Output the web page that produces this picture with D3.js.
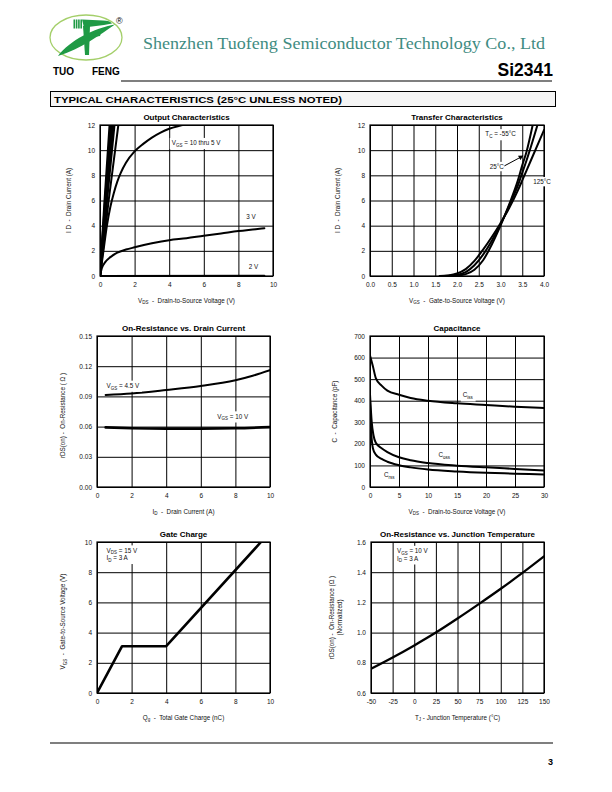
<!DOCTYPE html>
<html><head><meta charset="utf-8">
<script src="https://cdn.jsdelivr.net/npm/d3@7"></script>
<style>
body{margin:0;background:#fff}
svg{display:block}
text{font-family:"Liberation Sans",Arial,Helvetica,sans-serif;white-space:pre}
</style>
</head><body>
<svg id="c" width="612" height="792"></svg>
<script>
// ---------------- DATA ----------------
// 1. Output characteristics (VDS, ID)
const outTicksX = [0,2,4,6,8,10];
const outTicksY = [0,2,4,6,8,10,12];
const outV10 = [[0,0],[0.27,6],[0.56,12]];
const outV9  = [[0,0],[0.30,6],[0.62,12]];
const outV8  = [[0,0],[0.33,6],[0.68,12]];
const outV7  = [[0,0],[0.36,6],[0.75,12]];
const outV6  = [[0,0],[0.40,6],[0.83,12]];
const outV5  = [[0,0],[0.50,6],[1.06,12]];
const outV4  = [[0,0],[0.2,2],[0.4,4],[0.6,5.5],[0.8,6.6],[1.0,7.5],[1.2,8.2],[1.5,9.0],[2,9.9],[2.5,10.5],[3,11.0],[3.5,11.4],[4,11.7],[4.5,11.9],[5,12.05]];
const outV3  = [[0,0],[0.1,0.6],[0.3,1.1],[0.6,1.5],[1,1.85],[1.5,2.1],[2,2.28],[3,2.6],[4,2.85],[5,3.0],[6,3.2],[7,3.38],[8,3.57],[9,3.72],[9.5,3.8]];
const outV2  = [[0,0],[9.5,0.02]];

// 2. Transfer characteristics (VGS, ID)
const trTicksX = [0,0.5,1,1.5,2,2.5,3,3.5,4];
const trTicksY = [0,2,4,6,8,10,12];
const trM55 = [[1.8,0],[2.0,0.03],[2.2,0.15],[2.4,0.5],[2.6,1.25],[2.8,2.5],[3.0,4.0],[3.2,5.7],[3.4,7.6],[3.5,8.8],[3.6,9.9],[3.74,12]];
const tr25  = [[1.7,0],[2.0,0.08],[2.2,0.3],[2.4,0.85],[2.6,1.7],[2.8,2.8],[3.0,4.1],[3.2,5.6],[3.4,7.2],[3.5,8.2],[3.6,9.2],[3.85,12]];
const tr125 = [[1.6,0],[1.8,0.05],[2.0,0.2],[2.2,0.55],[2.4,1.2],[2.6,2.1],[2.8,3.1],[3.0,4.2],[3.2,5.4],[3.4,6.8],[3.5,7.6],[3.7,9.2],[4.0,11.6]];

// 3. On-resistance vs drain current (ID, rDS)
const onTicksX = [0,2,4,6,8,10];
const onTicksY = [0,0.03,0.06,0.09,0.12,0.15];
const onV45 = [[0.5,0.0915],[2,0.093],[4,0.0964],[6,0.1003],[8,0.106],[9,0.1105],[10,0.116]];
const onV10 = [[0.5,0.0592],[2,0.0584],[4,0.058],[6,0.058],[8,0.0583],[10,0.0595]];

// 4. Capacitance (VDS, pF)
const capTicksX = [0,5,10,15,20,25,30];
const capTicksY = [0,100,200,300,400,500,600,700];
const ciss = [[0,610],[0.5,560],[1,505],[2,470],[3,447],[5,428],[7,413],[10,400],[15,388],[20,380],[25,372],[30,366]];
const coss = [[0,430],[0.3,300],[0.6,240],[1,205],[2,180],[3,162],[5,138],[7,124],[10,111],[15,99],[20,91],[25,84],[30,77]];
const crss = [[0,400],[0.2,260],[0.5,180],[1,150],[2,130],[3,117],[5,101],[7,91],[10,81],[15,72],[20,66],[25,62],[30,58]];

// 5. Gate charge (Qg, VGS)
const gcTicksX = [0,2,4,6,8,10];
const gcTicksY = [0,2,4,6,8,10];
const gateCharge = [[0,0],[1.45,3.1],[4.0,3.1],[9.48,10]];

// 6. On-resistance vs junction temperature (TJ, normalized)
const tjTicksX = [-50,-25,0,25,50,75,100,125,150];
const tjTicksY = [0.6,0.8,1.0,1.2,1.4,1.6];
const rdsTj = [[-50,0.76],[-25,0.835],[0,0.915],[25,1.0],[50,1.093],[75,1.19],[100,1.29],[125,1.395],[150,1.505]];

// ---------------- DRAW ----------------
const svg = d3.select('#c');

// header / logo
const G = '#1f9a45';
svg.append('ellipse').attr('cx',86).attr('cy',37.5).attr('rx',36).attr('ry',22.5)
  .attr('fill','none').attr('stroke','#a4cf6a').attr('stroke-width',1.3);
[73.5,75.8,78.1,80.4].forEach(x=>svg.append('rect').attr('x',x).attr('y',19.5).attr('width',1.6).attr('height',9).attr('fill',G));
svg.append('path').attr('d','M82,19.5 L103,20.5 Q110,20.5 112,23.5 L104,25 L84,27.5 Z').attr('fill',G);
svg.append('path').attr('d','M83,26 L90,25.5 L89,55 L85,55 Z').attr('fill',G);
svg.append('path').attr('d','M58,56 C70,40 94,28.5 115,24.5 C101,34 81,49 58,56 Z').attr('fill',G);
svg.append('path').attr('d','M88,34 L101,32.5 L100,36 L88,38 Z').attr('fill',G);
svg.append('text').attr('x',116).attr('y',24).attr('font-size',9).text('®');
svg.append('text').attr('x',53).attr('y',74.5).attr('font-size',10).attr('font-weight','bold').text('TUO');
svg.append('text').attr('x',92).attr('y',74.5).attr('font-size',10).attr('font-weight','bold').text('FENG');
svg.append('text').attr('x',143).attr('y',49).attr('font-size',17.5)
  .style('font-family','"Liberation Serif","Times New Roman",serif').attr('fill','#3f8c82')
  .attr('textLength',402).attr('lengthAdjust','spacingAndGlyphs')
  .text('Shenzhen Tuofeng Semiconductor Technology Co., Ltd');
svg.append('text').attr('x',553).attr('y',76).attr('text-anchor','end').attr('font-size',17.5)
  .attr('font-weight','bold').text('Si2341');
svg.append('line').attr('x1',121).attr('x2',552).attr('y1',81).attr('y2',81).attr('stroke','#000').attr('stroke-width',1.2);
svg.append('rect').attr('x',50.5).attr('y',91.5).attr('width',505).attr('height',15)
  .attr('fill','#f5f5f5').attr('stroke','#000').attr('stroke-width',1);
svg.append('text').attr('x',54).attr('y',102.5).attr('font-size',9.5).attr('font-weight','900')
  .attr('textLength',288).attr('lengthAdjust','spacingAndGlyphs')
  .text('TYPICAL CHARACTERISTICS (25°C UNLESS NOTED)');
svg.append('line').attr('x1',50).attr('x2',553).attr('y1',743).attr('y2',743).attr('stroke','#000').attr('stroke-width',1.2);
svg.append('text').attr('x',553).attr('y',765).attr('text-anchor','end').attr('font-size',9).attr('font-weight','bold').text('3');

// rich text helper: segments = strings or {sub:'..'}
function rich(sel, segs, size){
  let pend = 0;
  segs.forEach(s=>{
    if(typeof s==='string'){
      const t = sel.append('tspan').text(s);
      if(pend){ t.attr('dy', pend); pend = 0; }
    } else {
      sel.append('tspan').attr('font-size', size*0.72).attr('dy', size*0.28).text(s.sub);
      pend = -size*0.28;
    }
  });
  return sel;
}

let clipId = 0;
function panel(cfg){
  const {L,R,T,B} = cfg;
  const g = svg.append('g');
  const x = d3.scaleLinear().domain(cfg.xd).range([L,R]);
  const y = d3.scaleLinear().domain(cfg.yd).range([B,T]);
  // grid
  g.append('g').attr('transform',`translate(0,${B})`)
    .call(d3.axisBottom(x).tickValues(cfg.xt).tickSize(-(B-T)).tickFormat(''))
    .call(a=>a.select('.domain').remove())
    .call(a=>a.selectAll('line').attr('stroke','#000').attr('stroke-width',1));
  g.append('g').attr('transform',`translate(${L},0)`)
    .call(d3.axisLeft(y).tickValues(cfg.yt).tickSize(-(R-L)).tickFormat(''))
    .call(a=>a.select('.domain').remove())
    .call(a=>a.selectAll('line').attr('stroke','#000').attr('stroke-width',1));
  g.append('rect').attr('x',L).attr('y',T).attr('width',R-L).attr('height',B-T)
    .attr('fill','none').attr('stroke','#000').attr('stroke-width',1.2);
  // tick labels
  g.append('g').attr('transform',`translate(0,${B})`)
    .call(d3.axisBottom(x).tickValues(cfg.xt).tickSize(0).tickPadding(6).tickFormat(cfg.xf))
    .call(a=>a.select('.domain').remove())
    .call(a=>a.selectAll('text').attr('font-size',6.5).attr('fill','#111').style('font-family','"Liberation Sans",Arial,sans-serif'));
  g.append('g').attr('transform',`translate(${L},0)`)
    .call(d3.axisLeft(y).tickValues(cfg.yt).tickSize(0).tickPadding(5).tickFormat(cfg.yf))
    .call(a=>a.select('.domain').remove())
    .call(a=>a.selectAll('text').attr('font-size',6.5).attr('fill','#111').style('font-family','"Liberation Sans",Arial,sans-serif'));
  // title
  g.append('text').attr('x',(L+R)/2).attr('y',T-5).attr('text-anchor','middle')
    .attr('font-size',8).attr('font-weight','bold').text(cfg.title);
  // axis titles
  rich(g.append('text').attr('x',(L+R)/2).attr('y',B+26.5).attr('text-anchor','middle')
    .attr('font-size',6.3).attr('fill','#111'), cfg.xl, 6.3);
  cfg.yl.forEach((segs,i)=>{
    rich(g.append('text').attr('transform',`translate(${cfg.ylx[i]},${(T+B)/2+(cfg.yloff||0)}) rotate(-90)`)
      .attr('text-anchor','middle').attr('font-size',6.3).attr('fill','#111'), segs, 6.3);
  });
  // series
  const id = 'clip'+(clipId++);
  svg.append('clipPath').attr('id',id).append('rect').attr('x',L).attr('y',T).attr('width',R-L).attr('height',B-T);
  const line = d3.line().x(d=>x(d[0])).y(d=>y(d[1])).curve(d3.curveMonotoneX);
  const lineL = d3.line().x(d=>x(d[0])).y(d=>y(d[1]));
  const sg = g.append('g').attr('clip-path',`url(#${id})`);
  cfg.series.forEach(s=>{
    sg.append('path').datum(s.data).attr('d',(s.linear?lineL:line))
      .attr('fill','none').attr('stroke','#000').attr('stroke-width',s.w||2)
      .attr('stroke-linejoin','round').attr('stroke-linecap','round');
  });
  // labels with white background
  (cfg.labels||[]).forEach(lb=>{
    const lg = g.append('g');
    lb.lines.forEach((segs,i)=>rich(lg.append('text').attr('x',x(lb.x)).attr('y',y(lb.y)+i*7.5)
      .attr('font-size',6.3).attr('fill','#111'), segs, 6.3));
    const bb = lg.node().getBBox();
    const p = lb.pad==null?2:lb.pad;
    lg.insert('rect',':first-child').attr('x',bb.x-p).attr('y',bb.y-p*0.6).attr('width',bb.width+2*p).attr('height',bb.height+p*1.2).attr('fill','#fff');
  });
  return {g,x,y};
}

const f0 = d=>String(d), f1 = d3.format('.1f'), f2 = d3.format('.2f');

// 1 Output
panel({L:100,R:273,T:125,B:276, xd:[0,10], yd:[0,12], xt:outTicksX, yt:outTicksY, xf:f0, yf:f0,
  title:'Output Characteristics',
  xl:['V',{sub:'DS'},'  -  Drain-to-Source Voltage (V)'],
  yl:[['I D  -  Drain Current (A)']], ylx:[71],
  series:[{data:outV10,linear:true,w:2.3},{data:outV9,linear:true,w:2.3},{data:outV8,linear:true,w:2.3},{data:outV7,linear:true,w:2.3},{data:outV6,linear:true,w:2.3},{data:outV5,linear:true},
          {data:outV4},{data:outV3},{data:outV2,linear:true}],
  labels:[{x:4.15,y:10.4,lines:[['V',{sub:'GS'},' = 10 thru 5 V']]},
          {x:8.45,y:4.5,lines:[['3 V']]},
          {x:8.6,y:0.55,lines:[['2 V']],pad:4}]
});

// 2 Transfer
const p2 = panel({L:370,R:544,T:125,B:276, xd:[0,4], yd:[0,12], xt:trTicksX, yt:trTicksY, xf:f1, yf:f0,
  title:'Transfer Characteristics',
  xl:['V',{sub:'GS'},'  -  Gate-to-Source Voltage (V)'],
  yl:[['I D  -  Drain Current (A)']], ylx:[340],
  series:[{data:trM55},{data:tr25},{data:tr125}],
  labels:[{x:2.65,y:11.1,lines:[['T',{sub:'C'},' = -55°C']]},
          {x:2.75,y:8.5,lines:[['25°C']]},
          {x:3.75,y:7.3,lines:[['125°C']]}]
});
svg.append('defs').append('marker').attr('id','arr').attr('viewBox','0 0 10 10').attr('refX',9).attr('refY',5)
  .attr('markerWidth',5).attr('markerHeight',5).attr('orient','auto')
  .append('path').attr('d','M0,0 L10,5 L0,10 Z').attr('fill','#000');
p2.g.append('line').attr('x1',p2.x(3.09)).attr('y1',p2.y(8.75)).attr('x2',p2.x(3.52)).attr('y2',p2.y(9.55))
  .attr('stroke','#000').attr('stroke-width',1).attr('marker-end','url(#arr)');

// 3 On-resistance vs drain current
panel({L:97,R:270,T:336,B:487, xd:[0,10], yd:[0,0.15], xt:onTicksX, yt:onTicksY, xf:f0, yf:f2,
  title:'On-Resistance vs. Drain Current',
  xl:['I',{sub:'D'},'  -  Drain Current (A)'],
  yl:[['rDS(on) -  On-Resistance ( Ω )']], ylx:[65], yloff:4,
  series:[{data:onV45},{data:onV10,w:2.6}],
  labels:[{x:0.55,y:0.0985,lines:[['V',{sub:'GS'},' = 4.5 V']]},
          {x:6.95,y:0.068,lines:[['V',{sub:'GS'},' = 10 V']]}]
});

// 4 Capacitance
panel({L:370,R:544,T:336,B:487, xd:[0,30], yd:[0,700], xt:capTicksX, yt:capTicksY, xf:f0, yf:f0,
  title:'Capacitance',
  xl:['V',{sub:'DS'},'  -  Drain-to-Source Voltage (V)'],
  yl:[['C  -  Capacitance (pF)']], ylx:[337],
  series:[{data:ciss},{data:coss},{data:crss}],
  labels:[{x:16,y:415,lines:[['C',{sub:'iss'}]]},
          {x:11.8,y:138,lines:[['C',{sub:'oss'}]]},
          {x:2.4,y:45,lines:[['C',{sub:'rss'}]]}]
});

// 5 Gate charge
panel({L:97,R:270,T:542,B:693, xd:[0,10], yd:[0,10], xt:gcTicksX, yt:gcTicksY, xf:f0, yf:f0,
  title:'Gate Charge',
  xl:['Q',{sub:'g'},'  -  Total Gate Charge (nC)'],
  yl:[['V',{sub:'GS'},'  -  Gate-to-Source Voltage (V)']], ylx:[65], yloff:4,
  series:[{data:gateCharge,linear:true,w:2.6}],
  labels:[{x:0.55,y:9.3,lines:[['V',{sub:'DS'},' = 15 V'],['I',{sub:'D'},' = 3 A']]}]
});

// 6 On-resistance vs junction temperature
panel({L:371,R:544,T:542,B:693, xd:[-50,150], yd:[0.6,1.6], xt:tjTicksX, yt:tjTicksY, xf:f0, yf:f1,
  title:'On-Resistance vs. Junction Temperature',
  xl:['T',{sub:'J'},' - Junction Temperature (°C)'],
  yl:[['rDS(on) -  On-Resistance (Ω )'],['(Normalized)']], ylx:[334,342],
  series:[{data:rdsTj,w:2.3}],
  labels:[{x:-20,y:1.527,lines:[['V',{sub:'GS'},' = 10 V'],['I',{sub:'D'},' = 3 A']]}]
});
</script>
</body></html>
